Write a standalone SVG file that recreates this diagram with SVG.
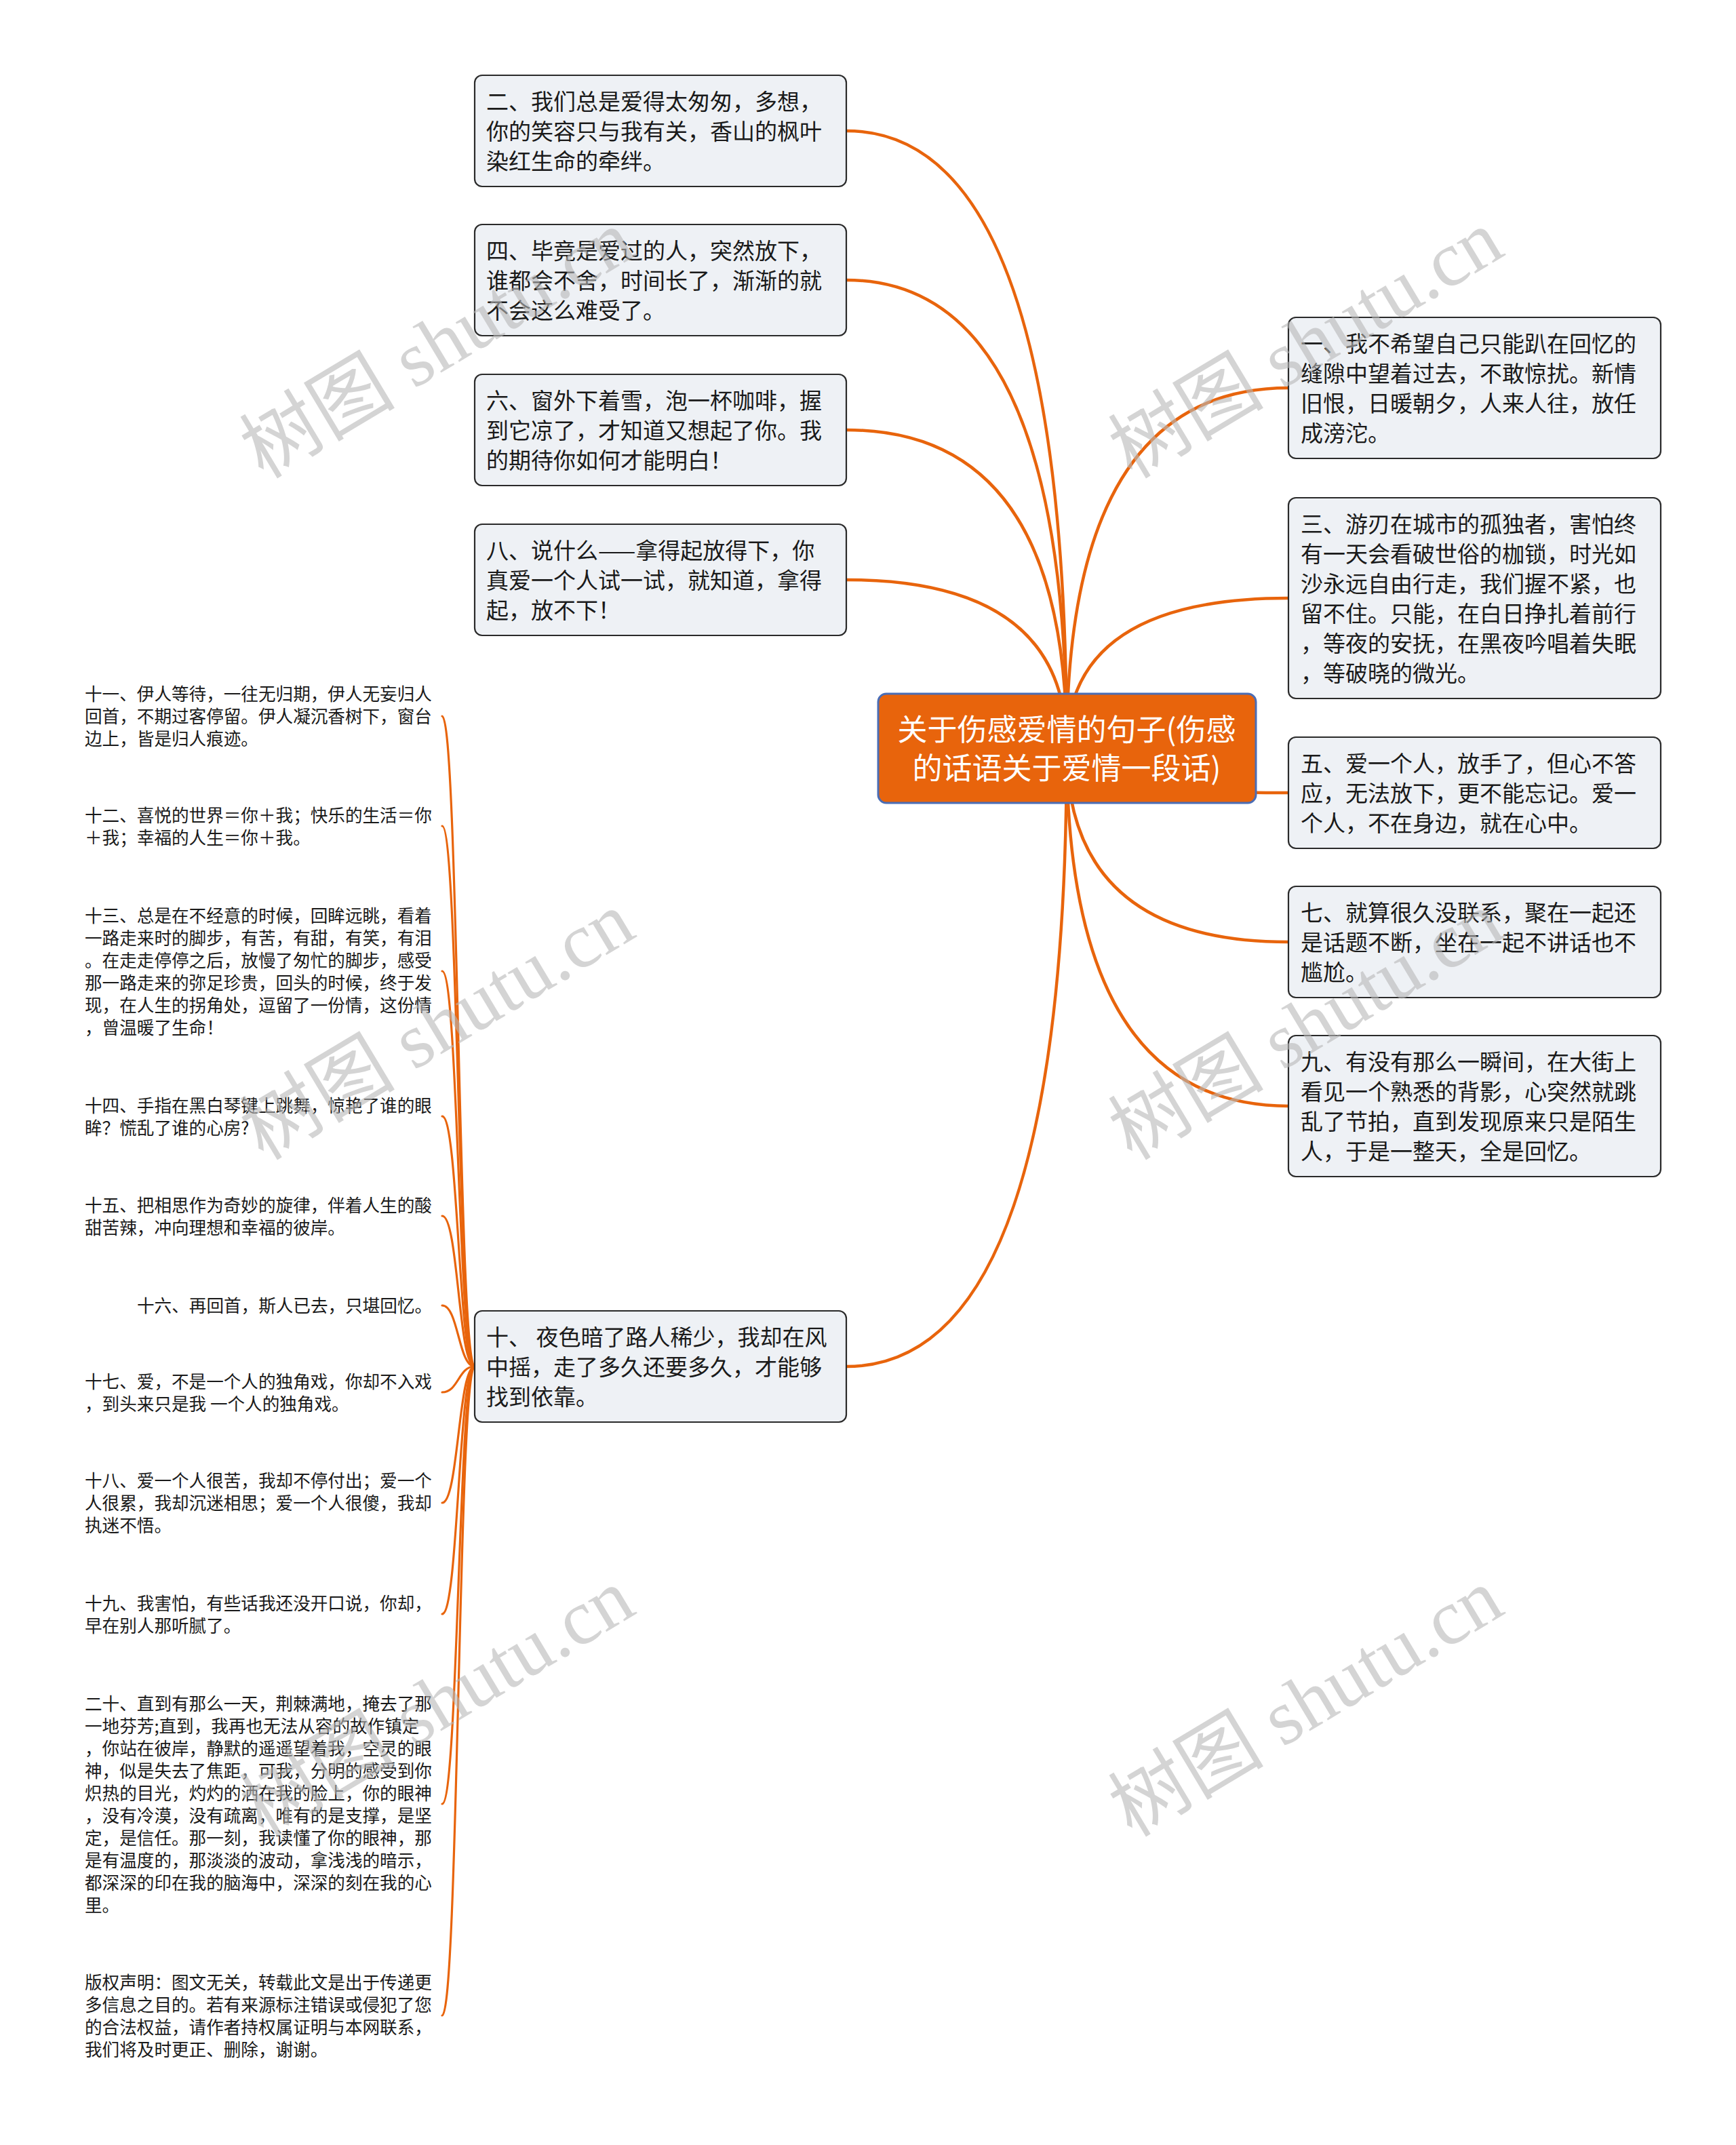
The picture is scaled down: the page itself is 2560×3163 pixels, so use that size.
<svg xmlns="http://www.w3.org/2000/svg" width="2560" height="3163" viewBox="0 0 2560 3163">
<style>
.bg{fill:#ffffff}
.box{fill:#EEF1F5;stroke:#2a2a2a;stroke-width:2.2}
.root{fill:#E8640C;stroke:#4A6DB5;stroke-width:3}
.t{font-family:"Noto Sans CJK SC","Noto Sans",sans-serif;font-size:33px;fill:#1a1a1a}
.rt{font-family:"Noto Sans CJK SC","Noto Sans",sans-serif;font-size:44px;fill:#ffffff;text-anchor:middle}
.s{font-family:"Noto Sans CJK SC","Noto Sans",sans-serif;font-size:25.6px;fill:#1a1a1a}
.c{fill:none;stroke:#E8640C;stroke-width:4.5;stroke-linecap:round}
.c2{fill:none;stroke:#E8640C;stroke-width:3.2;stroke-linecap:round}
.wm{font-family:"Liberation Serif","Noto Sans CJK SC",serif;font-size:115px;fill:#b8b8b8;fill-opacity:0.6;text-anchor:middle;dominant-baseline:central}
</style>
<rect class="bg" x="0" y="0" width="2560" height="3163"/>
<g id="connectors">
<path class="c" d="M1573,1103 Q1573,193 1248,193"/>
<path class="c" d="M1573,1103 Q1573,413 1248,413"/>
<path class="c" d="M1573,1103 Q1573,634 1248,634"/>
<path class="c" d="M1573,1103 Q1573,855 1248,855"/>
<path class="c" d="M1573,1103 Q1573,2015 1248,2015"/>
<path class="c" d="M1573,1103 Q1573,572 1900,572"/>
<path class="c" d="M1573,1103 Q1573,882 1900,882"/>
<path class="c" d="M1573,1103 Q1573,1169 1900,1169"/>
<path class="c" d="M1573,1103 Q1573,1389 1900,1389"/>
<path class="c" d="M1573,1103 Q1573,1631 1900,1631"/>
<path class="c2" d="M700,2015 C676,2015 676,1056 652,1056"/>
<path class="c2" d="M700,2015 C676,2015 676,1218 652,1218"/>
<path class="c2" d="M700,2015 C676,2015 676,1432 652,1432"/>
<path class="c2" d="M700,2015 C676,2015 676,1646 652,1646"/>
<path class="c2" d="M700,2015 C676,2015 676,1793 652,1793"/>
<path class="c2" d="M700,2015 C676,2015 676,1925 652,1925"/>
<path class="c2" d="M700,2015 C676,2015 676,2053 652,2053"/>
<path class="c2" d="M700,2015 C676,2015 676,2216 652,2216"/>
<path class="c2" d="M700,2015 C676,2015 676,2380 652,2380"/>
<path class="c2" d="M700,2015 C676,2015 676,2660 652,2660"/>
<path class="c2" d="M700,2015 C676,2015 676,2972 652,2972"/>
</g>
<g id="root">
<rect class="root" x="1295" y="1023" width="557" height="161" rx="12"/>
<text class="rt" x="1573" y="1091.7">关于伤感爱情的句子(伤感</text>
<text class="rt" x="1573" y="1148.7">的话语关于爱情一段话)</text>
</g>
<g id="n2">
<rect class="box" x="700" y="111" width="548" height="164" rx="11"/>
<text class="t" x="717" y="161.5">二、我们总是爱得太匆匆，多想，<tspan x="717" dy="44">你的笑容只与我有关，香山的枫叶</tspan><tspan x="717" dy="44">染红生命的牵绊。</tspan></text>
</g>
<g id="n4">
<rect class="box" x="700" y="331" width="548" height="164" rx="11"/>
<text class="t" x="717" y="381.5">四、毕竟是爱过的人，突然放下，<tspan x="717" dy="44">谁都会不舍，时间长了，渐渐的就</tspan><tspan x="717" dy="44">不会这么难受了。</tspan></text>
</g>
<g id="n6">
<rect class="box" x="700" y="552" width="548" height="164" rx="11"/>
<text class="t" x="717" y="602.5">六、窗外下着雪，泡一杯咖啡，握<tspan x="717" dy="44">到它凉了，才知道又想起了你。我</tspan><tspan x="717" dy="44">的期待你如何才能明白！</tspan></text>
</g>
<g id="n8">
<rect class="box" x="700" y="773" width="548" height="164" rx="11"/>
<text class="t" x="717" y="823.5">八、说什么——拿得起放得下，你<tspan x="717" dy="44">真爱一个人试一试，就知道，拿得</tspan><tspan x="717" dy="44">起，放不下！</tspan></text>
</g>
<g id="n10">
<rect class="box" x="700" y="1933" width="548" height="164" rx="11"/>
<text class="t" x="717" y="1983.5">十、 夜色暗了路人稀少，我却在风<tspan x="717" dy="44">中摇，走了多久还要多久，才能够</tspan><tspan x="717" dy="44">找到依靠。</tspan></text>
</g>
<g id="n1">
<rect class="box" x="1900" y="468" width="549" height="208" rx="11"/>
<text class="t" x="1918" y="518.5">一、我不希望自己只能趴在回忆的<tspan x="1918" dy="44">缝隙中望着过去，不敢惊扰。新情</tspan><tspan x="1918" dy="44">旧恨，日暖朝夕，人来人往，放任</tspan><tspan x="1918" dy="44">成滂沱。</tspan></text>
</g>
<g id="n3">
<rect class="box" x="1900" y="734" width="549" height="296" rx="11"/>
<text class="t" x="1918" y="784.5">三、游刃在城市的孤独者，害怕终<tspan x="1918" dy="44">有一天会看破世俗的枷锁，时光如</tspan><tspan x="1918" dy="44">沙永远自由行走，我们握不紧，也</tspan><tspan x="1918" dy="44">留不住。只能，在白日挣扎着前行</tspan><tspan x="1918" dy="44">，等夜的安抚，在黑夜吟唱着失眠</tspan><tspan x="1918" dy="44">，等破晓的微光。</tspan></text>
</g>
<g id="n5">
<rect class="box" x="1900" y="1087" width="549" height="164" rx="11"/>
<text class="t" x="1918" y="1137.5">五、爱一个人，放手了，但心不答<tspan x="1918" dy="44">应，无法放下，更不能忘记。爱一</tspan><tspan x="1918" dy="44">个人，不在身边，就在心中。</tspan></text>
</g>
<g id="n7">
<rect class="box" x="1900" y="1307" width="549" height="164" rx="11"/>
<text class="t" x="1918" y="1357.5">七、就算很久没联系，聚在一起还<tspan x="1918" dy="44">是话题不断，坐在一起不讲话也不</tspan><tspan x="1918" dy="44">尴尬。</tspan></text>
</g>
<g id="n9">
<rect class="box" x="1900" y="1527" width="549" height="208" rx="11"/>
<text class="t" x="1918" y="1577.5">九、有没有那么一瞬间，在大街上<tspan x="1918" dy="44">看见一个熟悉的背影，心突然就跳</tspan><tspan x="1918" dy="44">乱了节拍，直到发现原来只是陌生</tspan><tspan x="1918" dy="44">人，于是一整天，全是回忆。</tspan></text>
</g>
<g id="n11"><text class="s" x="125" y="1032.7">十一、伊人等待，一往无归期，伊人无妄归人<tspan x="125" dy="33">回首，不期过客停留。伊人凝沉香树下，窗台</tspan><tspan x="125" dy="33">边上，皆是归人痕迹。</tspan></text></g>
<g id="n12"><text class="s" x="125" y="1211.7">十二、喜悦的世界＝你＋我；快乐的生活＝你<tspan x="125" dy="33">＋我；幸福的人生＝你＋我。</tspan></text></g>
<g id="n13"><text class="s" x="125" y="1359.7">十三、总是在不经意的时候，回眸远眺，看着<tspan x="125" dy="33">一路走来时的脚步，有苦，有甜，有笑，有泪</tspan><tspan x="125" dy="33">。在走走停停之后，放慢了匆忙的脚步，感受</tspan><tspan x="125" dy="33">那一路走来的弥足珍贵，回头的时候，终于发</tspan><tspan x="125" dy="33">现，在人生的拐角处，逗留了一份情，这份情</tspan><tspan x="125" dy="33">，曾温暖了生命！</tspan></text></g>
<g id="n14"><text class="s" x="125" y="1639.7">十四、手指在黑白琴键上跳舞，惊艳了谁的眼<tspan x="125" dy="33">眸？慌乱了谁的心房?</tspan></text></g>
<g id="n15"><text class="s" x="125" y="1786.7">十五、把相思作为奇妙的旋律，伴着人生的酸<tspan x="125" dy="33">甜苦辣，冲向理想和幸福的彼岸。</tspan></text></g>
<g id="n16"><text class="s" x="202" y="1934.7">十六、再回首，斯人已去，只堪回忆。</text></g>
<g id="n17"><text class="s" x="125" y="2046.7">十七、爱，不是一个人的独角戏，你却不入戏<tspan x="125" dy="33">，到头来只是我 一个人的独角戏。</tspan></text></g>
<g id="n18"><text class="s" x="125" y="2192.7">十八、爱一个人很苦，我却不停付出；爱一个<tspan x="125" dy="33">人很累，我却沉迷相思；爱一个人很傻，我却</tspan><tspan x="125" dy="33">执迷不悟。</tspan></text></g>
<g id="n19"><text class="s" x="125" y="2373.7">十九、我害怕，有些话我还没开口说，你却，<tspan x="125" dy="33">早在别人那听腻了。</tspan></text></g>
<g id="n20"><text class="s" x="125" y="2521.7">二十、直到有那么一天，荆棘满地，掩去了那<tspan x="125" dy="33">一地芬芳;直到，我再也无法从容的故作镇定</tspan><tspan x="125" dy="33">，你站在彼岸，静默的遥遥望着我，空灵的眼</tspan><tspan x="125" dy="33">神，似是失去了焦距，可我，分明的感受到你</tspan><tspan x="125" dy="33">炽热的目光，灼灼的洒在我的脸上，你的眼神</tspan><tspan x="125" dy="33">，没有冷漠，没有疏离，唯有的是支撑，是坚</tspan><tspan x="125" dy="33">定，是信任。那一刻，我读懂了你的眼神，那</tspan><tspan x="125" dy="33">是有温度的，那淡淡的波动，拿浅浅的暗示，</tspan><tspan x="125" dy="33">都深深的印在我的脑海中，深深的刻在我的心</tspan><tspan x="125" dy="33">里。</tspan></text></g>
<g id="copyright"><text class="s" x="125" y="2932.7">版权声明：图文无关，转载此文是出于传递更<tspan x="125" dy="33">多信息之目的。若有来源标注错误或侵犯了您</tspan><tspan x="125" dy="33">的合法权益，请作者持权属证明与本网联系，</tspan><tspan x="125" dy="33">我们将及时更正、删除，谢谢。</tspan></text></g>
<g id="watermarks">
<text class="wm" transform="translate(645,508) rotate(-31)">树图 shutu.cn</text>
<text class="wm" transform="translate(1926,508) rotate(-31)">树图 shutu.cn</text>
<text class="wm" transform="translate(645,1513) rotate(-31)">树图 shutu.cn</text>
<text class="wm" transform="translate(1926,1513) rotate(-31)">树图 shutu.cn</text>
<text class="wm" transform="translate(645,2511) rotate(-31)">树图 shutu.cn</text>
<text class="wm" transform="translate(1926,2511) rotate(-31)">树图 shutu.cn</text>
</g>
</svg>
